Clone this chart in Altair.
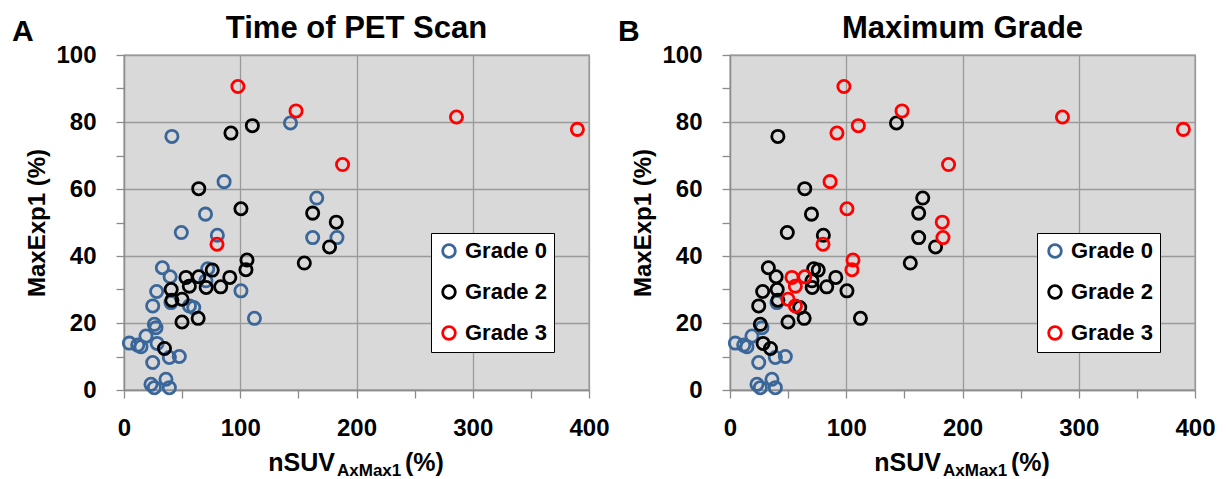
import altair as alt
import pandas as pd

# ---- data ----
x_vals = [98, 148, 188, 80, 286, 390,
          110.4, 92, 64.3, 100.6, 162.3, 182.6, 176.8, 155.1, 105.8, 104.9,
          75.9, 64.3, 53.3, 91.0, 56.2, 70.7, 83.2, 40.6, 41.2, 49.9,
          49.9, 63.8, 34.8,
          143.2, 41.2, 86.1, 70.1, 49.3, 80.3, 165.8, 162.3, 183.2, 100.6,
          112.2, 33.0, 39.7, 72.0, 70.5, 28.1, 24.7, 40.4, 56.3, 60.0,
          26.1, 27.5, 18.9, 4.6, 11.8, 14.6, 28.5, 39.0, 47.6, 24.7,
          23.2, 26.1, 36.1, 39.0]
y_vals = [90.6, 83.3, 67.3, 43.5, 81.5, 77.8,
          78.9, 76.7, 60.1, 54.1, 52.8, 50.1, 42.7, 37.9, 38.8, 35.9,
          35.8, 33.8, 33.6, 33.6, 31.0, 30.6, 30.8, 30.0, 26.8, 27.1,
          20.3, 21.4, 12.4,
          79.7, 75.7, 62.2, 52.5, 47.0, 46.2, 57.3, 45.5, 45.5, 29.6,
          21.4, 36.5, 33.8, 36.2, 32.6, 29.4, 25.1, 26.1, 25.1, 24.6,
          19.6, 18.6, 16.1, 14.0, 13.4, 12.9, 13.9, 9.7, 10.0, 8.2,
          1.7, 0.7, 3.2, 0.7]
# grade at time of PET scan (panel A)
grade_time = [3] * 6 + [2] * 23 + [0] * 34
# maximum grade (panel B)
grade_max = ([3] * 6 +
             [3, 3, 2, 3, 2, 3, 2, 2, 3, 3, 2, 3, 3, 2, 3, 2, 2, 2, 2, 3, 2, 2, 2] +
             [2, 2, 3, 2, 2, 2, 2, 2, 3, 2, 2, 2, 2, 2, 2, 2, 2, 0, 3, 2,
              2, 0, 0, 0, 0, 0, 2, 0, 0, 0, 0, 0, 0, 0])

grade_names = ["Grade 0", "Grade 2", "Grade 3"]
grade_colors = ["#3A6699", "#000000", "#FF0000"]
panel_titles = ["Time of PET Scan", "Maximum Grade"]
panel_letters = ["A", "B"]
x_title_parts = ["nSUV", "AxMax1", "(%)"]
y_title = "MaxExp1 (%)"
x_ticks = list(range(0, 401, 50))
y_ticks = list(range(0, 101, 10))

FONT = "Liberation Sans"
W, H = 465, 335

df = pd.DataFrame({"x": x_vals, "y": y_vals, "gA": grade_time, "gB": grade_max})
df["A"] = df["gA"].map({0: "Grade 0", 2: "Grade 2", 3: "Grade 3"})
df["B"] = df["gB"].map({0: "Grade 0", 2: "Grade 2", 3: "Grade 3"})


def label(text, size, align, x, y):
    return alt.Chart(pd.DataFrame({"t": [text]})).mark_text(
        font=FONT, fontSize=size, fontWeight="bold", align=align,
        baseline="alphabetic", color="black"
    ).encode(text="t:N", x=alt.value(x), y=alt.value(y))


def panel(field, title, letter):
    pts = alt.Chart(df).mark_point(
        shape="circle", filled=False, size=150, strokeWidth=2.8, opacity=1
    ).encode(
        x=alt.X("x:Q", scale=alt.Scale(domain=[0, 400], nice=False),
                axis=alt.Axis(values=x_ticks, title=None,
                              labelExpr="datum.value % 100 == 0 ? datum.label : ''",
                              gridOpacity={"condition": {"test": "datum.value % 100 == 0", "value": 1}, "value": 0},
                              labelFlush=False, labelOverlap=False,
                              tickSize=8, labelPadding=18)),
        y=alt.Y("y:Q", scale=alt.Scale(domain=[0, 100], nice=False),
                axis=alt.Axis(values=y_ticks, title=y_title,
                              labelExpr="datum.value % 20 == 0 ? datum.label : ''",
                              gridOpacity={"condition": {"test": "datum.value % 20 == 0", "value": 1}, "value": 0},
                              labelFlush=False, labelOverlap=False,
                              tickSize=8, labelPadding=20, titlePadding=6)),
        color=alt.Color(f"{field}:N",
                        scale=alt.Scale(domain=grade_names, range=grade_colors),
                        legend=alt.Legend(title=None, orient="none", legendX=307, legendY=178,
                                          fillColor="white", strokeColor="black",
                                          padding=7, rowPadding=17, labelFontSize=22,
                                          labelFont=FONT, labelFontWeight="bold",
                                          labelColor="black", labelOffset=5,
                                          symbolType="circle", symbolSize=160,
                                          symbolStrokeWidth=2.8)),
        order=alt.Order(f"g{field}:Q"),
    )
    return alt.layer(
        pts,
        label(letter, 30, "left", -112, -14),
        label(title, 31, "center", W / 2, -17),
        label(x_title_parts[0], 25, "right", 211, 416),
        label(x_title_parts[1], 17, "left", 213, 421),
        label(x_title_parts[2], 25, "left", 281, 416),
    ).properties(width=W, height=H)


chart = alt.hconcat(
    panel("A", panel_titles[0], panel_letters[0]),
    panel("B", panel_titles[1], panel_letters[1]),
    spacing=7,
).resolve_scale(color="independent").resolve_legend(color="independent").configure_view(
    fill="#D9D9D9", stroke="#8C8C8C", strokeWidth=1.3
).configure_axis(
    labelFont=FONT, labelFontSize=24, labelFontWeight="bold", labelColor="black",
    titleFont=FONT, titleFontSize=24, titleFontWeight="bold", titleColor="black",
    domainColor="#8C8C8C", domainWidth=1.3, tickColor="#8C8C8C", tickWidth=1.3,
    gridColor="#9A9A9A", gridWidth=1.3,
).properties(background="white", padding={"left": 3, "top": 4, "right": 0, "bottom": 0})

chart.save("out.html", embed_options={"renderer": "svg", "actions": False})
